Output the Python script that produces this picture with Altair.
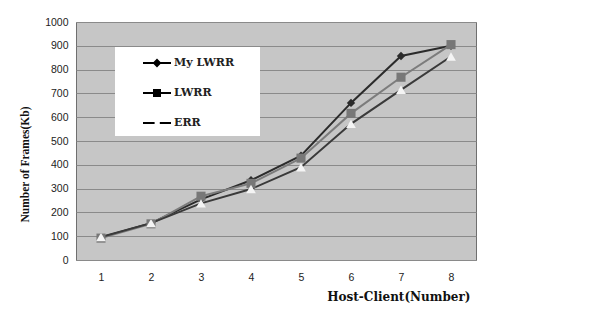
import altair as alt
import pandas as pd

hosts = [1, 2, 3, 4, 5, 6, 7, 8]
my_lwrr = [95, 155, 255, 335, 438, 660, 857, 900]
lwrr = [92, 152, 268, 322, 428, 616, 768, 905]
err = [97, 155, 238, 298, 390, 572, 715, 855]
series_names = ["My LWRR", "LWRR", "ERR"]
y_ticks = [0, 100, 200, 300, 400, 500, 600, 700, 800, 900, 1000]

rows = []
for name, vals in zip(series_names, [my_lwrr, lwrr, err]):
    for h, v in zip(hosts, vals):
        rows.append({"host": h, "frames": v, "series": name})
df = pd.DataFrame(rows)

line_colors = ["#2b2b2b", "#7c7c7c", "#3a3a3a"]
point_fills = ["#2b2b2b", "#777777", "#f4f4f4"]

x = alt.X("host:O", title="Host-Client(Number)",
          axis=alt.Axis(labelAngle=0, ticks=False, tickSize=0, domain=False, grid=False,
                        labelPadding=12, labelFont="Liberation Sans", labelFontSize=10.5,
                        labelColor="#222",
                        titleFont="DejaVu Serif", titleFontWeight="bold", titleFontSize=12,
                        titleX=394, titleY=40, titleAlign="right", titleBaseline="alphabetic",
                        titleColor="#111"))
y = alt.Y("frames:Q", title="Number of Frames(Kb)",
          scale=alt.Scale(domain=[0, 1000], nice=False),
          axis=alt.Axis(values=y_ticks, format="d", ticks=False, tickSize=0, domain=False,
                        grid=True, gridColor="#8a8a8a", gridWidth=1, labelPadding=8,
                        labelFont="Liberation Sans", labelFontSize=10.5, labelColor="#222",
                        titleFont="Liberation Serif", titleFontWeight="bold", titleFontSize=11.5,
                        titleX=-51, titleY=142, titleAlign="center", titleBaseline="middle",
                        titleColor="#111"))

# legend glyphs: line segment drawn as thin filled bar plus marker
legend_paths = [
    "M-1.75,-0.13H1.75V0.13H-1.75Z M0,-0.55L0.55,0L0,0.55L-0.55,0Z",
    "M-1.75,-0.13H1.75V0.13H-1.75Z M-0.5,-0.5H0.5V0.5H-0.5Z",
    "M-1.75,-0.13H-0.3V0.13H-1.75Z M0.35,-0.13H1.75V0.13H0.35Z",
]

legend_cfg = dict(
    title=None, orient="none", legendX=39, legendY=25,
    fillColor="white", padding=8, rowPadding=17,
    symbolSize=256, symbolOffset=26, labelOffset=9,
    symbolOpacity=1, symbolStrokeWidth=0,
    labelFont="DejaVu Serif", labelFontWeight="bold",
    labelFontSize=11, labelColor="#222",
    labelExpr="datum.label + '\u2800\u2800'",
)

lines = alt.Chart(df).mark_line(strokeWidth=2).encode(
    x=x, y=y,
    stroke=alt.Stroke("series:N", scale=alt.Scale(domain=series_names, range=line_colors),
                      legend=None),
    order=alt.Order("host:O"),
)

points = alt.Chart(df).mark_point(filled=True, opacity=1).encode(
    x=x, y=y,
    fill=alt.Fill("series:N", scale=alt.Scale(domain=series_names, range=point_fills), legend=None),
    shape=alt.Shape("series:N", scale=alt.Scale(domain=series_names,
                                                range=["diamond", "square", "triangle-up"]),
                    legend=None),
    size=alt.Size("series:N", scale=alt.Scale(domain=series_names, range=[70, 95, 120]),
                  legend=None),
)

legend_layer = alt.Chart(df).mark_point(filled=True, opacity=0).encode(
    x=x, y=y,
    color=alt.Color("series:N", sort=series_names,
                    scale=alt.Scale(domain=series_names, range=line_colors),
                    legend=alt.Legend(**legend_cfg)),
    shape=alt.Shape("series:N", sort=series_names,
                    scale=alt.Scale(domain=series_names, range=legend_paths),
                    legend=alt.Legend(**legend_cfg)),
)

chart = alt.layer(lines, points, legend_layer).resolve_scale(
    fill="independent", shape="independent", size="independent"
).properties(
    width=400, height=238,
    autosize="none",
    padding={"left": 68, "top": 14, "right": 110, "bottom": 43},
    background="white",
).configure_view(
    fill="#c6c6c6", stroke="#6f6f6f", strokeWidth=1
)

chart.save("out.html", embed_options={"renderer": "svg", "actions": False})
